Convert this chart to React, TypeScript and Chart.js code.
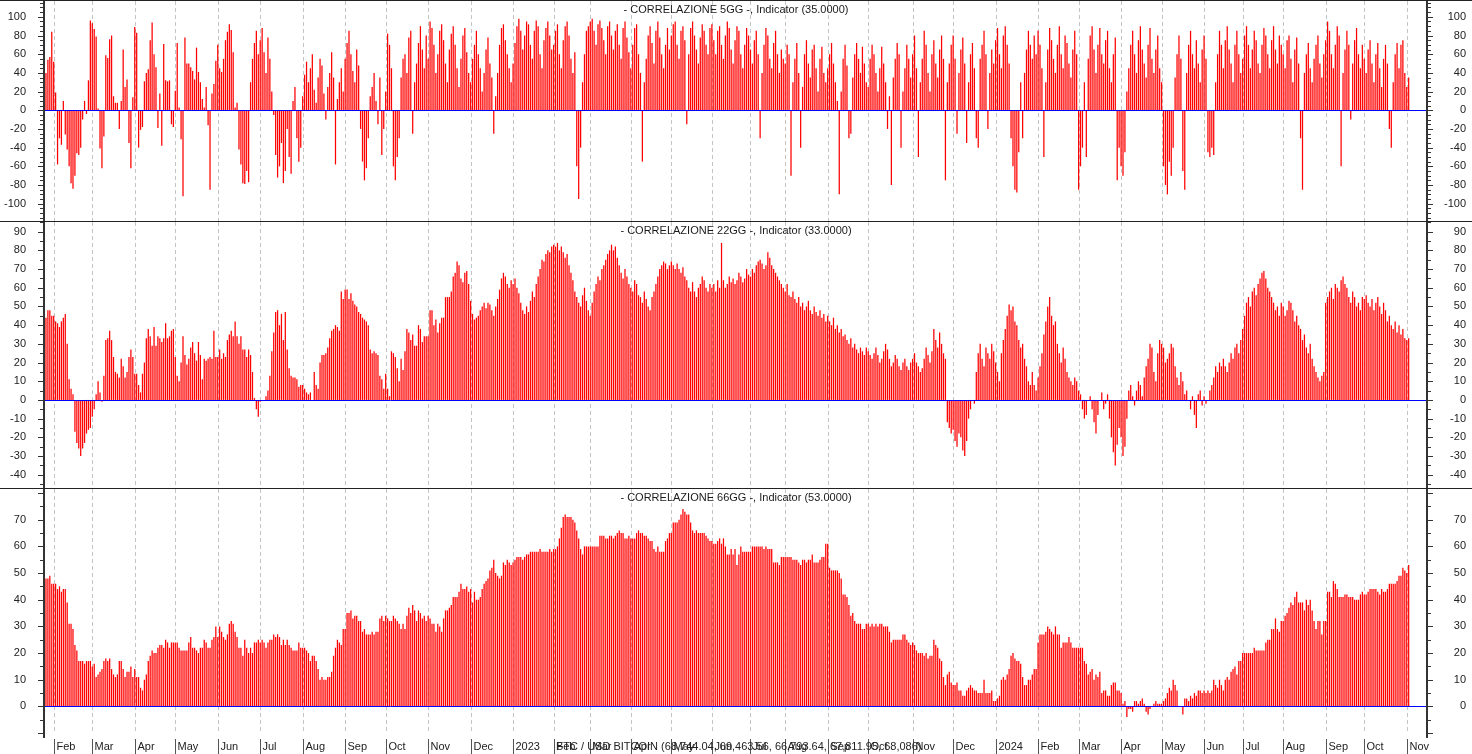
import React, { useEffect, useRef } from 'react';
import { Chart, registerables } from 'chart.js';

Chart.register(...registerables);

// ---- x axis: month boundaries (bar index where each month starts) ----
const MONTH_LABELS = ['Feb','Mar','Apr','May','Jun','Jul','Aug','Sep','Oct','Nov','Dec','2023','Feb','Mar','Apr','May','Jun','Jul','Aug','Sep','Oct','Nov','Dec','2024','Feb','Mar','Apr','May','Jun','Jul','Aug','Sep','Oct','Nov'];
const MONTH_START = [4,24,46,67,89,111,133,155,176,198,220,242,263,282,303,324,345,365,383,405,426,449,470,492,514,535,557,578,600,620,641,663,683,705];
const SLOT_COUNT = 716;

// ---- CORRELAZIONE 5GG ----
const CORR5 = [
  40,54,57,84,52,19,-58,-30,-37,10,-26,-42,-60,-78,-84,-70,-46,-48,-40,-10,
  10,-4,32,96,93,87,79,2,-41,-62,-28,59,56,76,80,15,8,8,-20,10,
  65,25,33,-35,-62,14,89,83,-40,-21,-18,31,40,44,75,94,60,46,-19,18,
  -38,71,32,31,32,-15,-18,21,72,3,-31,-92,78,50,50,46,42,33,67,41,
  30,12,3,25,-16,-85,18,28,53,70,45,41,55,75,84,92,86,62,3,8,
  -42,-58,-78,-79,-65,-77,30,55,72,85,60,
  75,88,62,40,78,55,20,-5,-48,-72,-60,-35,-78,-65,-20,-50,-68,10,25,-30,-55,-40,
  15,38,52,30,45,60,22,8,35,55,48,18,-10,25,40,62,35,-58,12,30,45,20,
  55,72,85,60,42,30,65,48,-20,-55,-75,-62,-30,15,25,40,10,-15,35,-48,-20,
  20,82,70,45,-60,-75,-50,-30,35,55,60,40,78,85,-25,30,50,72,90,65,45,80,
  55,95,88,70,40,60,85,92,75,50,30,65,82,90,70,45,25,55,80,88,62,40,
  30,55,70,85,60,45,20,40,65,78,50,35,-25,15,40,70,88,92,75,60,45,30,
  50,72,90,98,85,65,80,95,92,70,55,85,96,90,60,45,75,88,95,80,65,
  70,85,92,60,45,75,90,95,80,55,40,62,-60,-95,-40,30,60,85,90,
  95,98,85,70,92,96,88,75,60,90,95,80,65,85,92,70,55,88,95,78,62,
  45,70,88,92,60,40,-55,30,55,80,90,72,50,85,95,78,60,45,70,88,65,
  80,92,95,70,55,85,90,75,-15,60,88,95,80,65,50,78,92,85,70,60,88,
  92,75,60,85,90,70,55,80,95,88,65,50,75,90,85,60,45,70,88,80,
  65,50,75,85,60,-30,40,70,88,80,55,45,72,85,60,40,65,55,
  50,70,60,-70,30,55,72,40,-40,25,60,75,50,35,65,70,45,20,55,68,40,30,
  45,60,72,50,30,10,-90,20,55,70,48,-30,-25,35,60,72,55,40,68,50,30,
  25,55,70,60,40,20,45,68,50,30,-20,15,-80,35,55,72,60,-40,20,45,70,55,35,
  60,80,45,-50,30,55,85,70,40,20,60,75,50,35,65,80,55,-75,30,50,70,
  80,55,-25,40,65,78,50,-35,30,60,72,45,-30,-40,55,70,85,60,-20,40,65,50,
  75,88,60,45,80,90,70,50,-30,-60,-85,-88,-45,30,-30,40,65,85,70,55,80,60,
  85,70,45,-50,30,65,88,75,55,40,70,90,60,45,80,72,50,35,65,85,60,
  -85,-60,-40,30,-50,55,80,90,65,40,70,88,60,50,75,85,45,30,60,78,-75,-40,
  -60,-70,-45,20,45,70,85,60,40,75,90,65,50,35,70,88,55,40,65,80,45,
  30,-60,-80,-90,-55,-70,-40,35,60,80,55,-65,-85,40,70,85,60,45,75,50,30,65,
  80,55,-45,-50,-40,-48,30,60,85,70,45,75,90,65,50,30,70,85,60,40,
  55,80,90,70,45,65,85,75,50,40,70,88,80,60,45,75,90,65,50,80,70,
  60,45,75,80,55,30,65,78,50,-30,-85,40,60,72,45,30,55,70,80,50,35,60,
  75,95,85,60,45,70,90,80,-60,40,65,85,70,-10,50,75,88,60,45,70,
  55,40,65,75,50,30,60,72,45,25,55,70,50,-20,-40,30,60,72,45,70,75,40,
  25,35,
];

// ---- CORRELAZIONE 22GG ----
const CORR22 = [
  44,48,48,45,
  45,42,41,39,42,44,46,30,11,6,3,-17,-23,-26,-30,-26,-23,-18,-16,-15,
  -9,-5,3,10,4,-1,13,32,33,37,32,23,15,14,12,22,18,12,15,23,27,23,
  14,14,8,4,14,20,33,38,34,29,39,29,34,33,31,33,41,33,34,37,38,
  23,13,10,20,34,24,19,22,28,31,25,21,31,24,11,22,21,22,23,22,37,23,
  23,27,22,25,23,32,35,37,34,42,34,30,34,27,27,23,27,24,15,1,-5,-9,
  -1,0,0,2,5,13,26,36,47,48,40,46,32,47,27,17,13,12,12,11,7,8,
  8,6,4,3,4,0,15,8,6,20,24,24,25,28,33,37,38,40,39,37,58,54,
  59,59,54,57,53,51,50,47,46,44,43,42,40,27,25,26,25,24,13,11,6,
  14,6,2,26,25,23,17,10,22,16,26,38,36,32,35,29,29,40,38,31,34,34,
  34,48,48,40,43,36,41,44,44,55,55,55,58,66,68,74,72,65,63,68,69,62,
  53,46,43,44,45,48,50,52,49,52,51,48,45,50,54,59,65,68,66,62,60,64,
  62,65,60,57,52,48,46,50,47,53,58,55,62,66,70,75,74,78,80,79,82,
  83,82,84,80,82,79,76,78,72,68,64,58,55,52,50,56,60,53,48,
  45,52,58,62,66,64,70,72,75,78,80,83,80,82,76,72,68,65,70,66,62,
  60,58,64,62,56,55,52,58,54,50,48,55,58,62,66,70,72,74,73,70,72,
  74,72,70,73,70,68,71,66,64,60,58,63,58,55,60,62,66,64,60,58,62,
  60,62,58,64,60,84,64,60,62,66,63,65,62,64,68,66,63,65,70,67,
  66,70,68,72,74,75,73,70,72,79,76,72,70,68,66,64,62,60,
  58,62,56,55,58,54,52,55,50,52,48,50,53,48,46,50,47,45,48,44,46,42,
  45,42,40,44,38,40,36,38,34,35,32,30,33,28,30,27,25,28,26,24,28,
  26,24,22,25,28,24,20,22,26,30,27,22,18,20,24,22,18,16,20,22,18,16,20,
  22,25,20,18,15,17,22,28,24,20,26,38,32,28,36,30,25,22,-12,-15,-18,
  -16,-22,-25,-18,-20,-27,-30,-22,-10,-5,0,-2,15,25,30,22,18,28,25,22,30,26,
  20,15,10,25,32,38,45,51,48,50,42,40,32,28,30,22,18,10,8,15,8,5,
  12,18,25,35,42,50,55,45,40,42,30,25,20,28,22,15,12,10,8,12,10,
  5,3,-5,-10,-8,0,2,-5,-12,-18,-8,0,4,-5,-2,3,-10,-20,-28,-35,-24,-15,
  -20,-30,-25,-10,5,8,2,-3,5,10,8,2,12,18,22,30,28,15,10,25,32,
  30,28,20,22,25,30,28,18,12,8,15,10,3,5,0,-5,2,-8,-15,3,5,-3,
  2,-2,0,5,8,12,18,15,20,18,22,18,15,20,25,22,28,30,25,32,
  38,45,52,55,50,58,60,56,62,65,68,69,65,60,58,55,52,48,50,45,52,
  50,45,48,53,52,48,42,45,40,38,32,35,28,25,30,22,18,15,12,10,13,15,
  52,55,58,60,54,62,60,58,64,66,62,60,55,52,58,55,50,52,48,55,
  54,56,52,50,54,48,52,55,50,46,52,48,42,45,40,38,42,36,40,35,38,33,
  32,33,
];

// ---- CORRELAZIONE 66GG ----
const CORR66 = [
  48,48,49,46,
  46,46,44,45,43,44,44,39,31,31,29,23,21,17,17,17,16,17,17,17,
  15,16,11,12,13,14,17,18,17,18,14,12,11,12,17,17,14,11,13,13,15,11,
  14,11,11,7,6,10,12,17,19,21,20,20,22,23,23,22,25,24,22,24,24,
  24,24,22,21,21,21,21,24,26,22,22,21,20,22,22,25,24,22,22,25,26,30,
  26,30,28,26,25,27,31,32,31,28,26,22,22,19,25,22,20,22,20,24,24,25,
  24,25,24,22,24,25,25,27,26,27,26,23,25,23,25,23,22,21,21,21,24,22,
  22,22,21,20,17,19,19,17,14,10,11,10,10,11,11,13,19,22,25,24,23,29,
  29,35,35,36,33,34,34,32,32,28,29,27,27,27,28,27,28,28,33,34,32,
  34,33,32,32,34,33,32,31,29,31,29,34,37,35,38,36,32,36,35,33,34,32,
  34,33,31,31,28,31,30,28,33,36,36,37,38,41,41,41,43,46,44,44,45,43,
  44,39,43,40,40,41,44,46,47,48,51,52,55,50,49,48,49,54,53,55,54,53,
  54,55,56,56,56,55,56,57,57,58,58,58,58,58,59,58,58,58,58,59,58,
  59,59,60,63,67,71,72,71,71,71,70,69,66,63,59,57,60,60,60,
  60,60,60,60,60,64,64,64,63,63,64,64,63,64,65,66,65,65,63,63,64,
  63,63,63,65,66,65,65,64,64,63,62,62,59,58,60,58,58,58,62,63,65,
  65,69,69,69,70,72,74,73,72,72,69,66,65,66,65,65,65,65,64,63,62,
  62,61,61,62,63,61,63,60,57,57,59,57,59,53,57,60,58,58,58,58,
  58,60,60,60,60,60,60,59,60,59,59,59,54,54,54,53,56,56,
  56,56,56,56,55,55,55,54,53,55,55,54,55,55,57,54,54,54,55,56,56,61,
  61,52,51,51,51,51,50,48,42,42,41,38,34,35,32,31,31,31,29,29,31,
  31,30,31,30,31,30,31,31,30,30,30,28,24,25,25,25,25,25,27,27,25,24,23,
  24,23,21,20,20,20,19,20,18,19,19,25,23,22,18,17,11,8,12,13,9,
  8,8,9,6,6,4,4,6,7,8,7,6,6,5,5,5,10,5,5,5,6,2,
  2,3,4,10,11,10,12,14,19,20,18,17,17,16,11,8,8,10,10,12,14,14,
  24,27,27,27,28,30,29,28,27,30,27,27,22,24,24,24,26,24,22,22,22,
  22,22,22,17,16,12,13,14,10,12,11,13,5,6,6,4,4,8,9,9,6,6,
  5,1,2,-4,-1,-1,-2,2,2,1,2,3,1,-2,-3,-1,0,1,2,1,1,
  1,2,3,5,7,6,10,8,6,0,0,-3,3,3,2,4,3,5,4,6,6,5,
  6,5,6,5,6,10,8,7,10,8,6,10,11,10,13,14,15,12,17,17,
  20,20,20,20,20,20,22,21,21,21,21,21,24,25,25,29,29,33,29,28,32,
  32,34,35,37,39,38,41,43,39,39,39,36,40,38,40,36,32,29,32,32,27,32,
  32,43,43,41,47,46,44,41,41,41,42,42,41,41,41,40,40,40,42,43,
  42,42,43,44,44,44,44,43,42,44,43,43,44,46,46,46,46,47,49,49,52,51,
  50,53,
];

const PANEL_TITLES = [
  '- CORRELAZIONE 5GG -, Indicator (35.0000)',
  '- CORRELAZIONE 22GG -, Indicator (33.0000)',
  '- CORRELAZIONE 66GG -, Indicator (53.0000)',
];
const FOOTER_TEXT = 'BTC / USD BITCOIN (68,744.04, 69,463.56, 66,793.64, 67,811.95, 68,086)';

const FONT = '"Liberation Sans", Arial, sans-serif';
const W = 1472;

type Panel = {
  data: number[]; title: string; min: number; max: number;
  labels: number[]; minorFrom: number; minorTo: number; minorStep: number; majorStep: number;
  height: number; bottom: boolean;
};

const range = (a: number, b: number, s: number) => { const r: number[] = []; for (let v = a; v <= b + 1e-9; v += s) r.push(v); return r; };

const PANELS: Panel[] = [
  { data: CORR5, title: PANEL_TITLES[0], min: -118.5, max: 118, labels: range(-100, 100, 20), minorFrom: -115, minorTo: 115, minorStep: 5, majorStep: 20, height: 221, bottom: false },
  { data: CORR22, title: PANEL_TITLES[1], min: -47.1, max: 95.7, labels: range(-40, 90, 10), minorFrom: -45, minorTo: 95, minorStep: 5, majorStep: 10, height: 267, bottom: false },
  { data: CORR66, title: PANEL_TITLES[2], min: -11.85, max: 81.9, labels: range(0, 70, 10), minorFrom: -10, minorTo: 80, minorStep: 5, majorStep: 10, height: 266, bottom: true },
];

const decorPlugin = {
  id: 'decor',
  beforeDatasetsDraw(chart: any, _args: any, opts: any) {
    const { ctx, chartArea: ca, scales } = chart;
    const xs = scales.x;
    ctx.save();
    ctx.strokeStyle = '#c4c4c4';
    ctx.lineWidth = 1;
    ctx.setLineDash([4, 3]);
    for (const idx of MONTH_START) {
      const px = Math.round(xs.getPixelForValue(idx)) + 0.5;
      ctx.beginPath();
      ctx.moveTo(px, ca.top + 1);
      ctx.lineTo(px, opts.bottom ? ca.bottom - 4 : ca.bottom);
      ctx.stroke();
    }
    ctx.restore();
  },
  afterDatasetsDraw(chart: any, _args: any, opts: any) {
    const { ctx, chartArea: ca, scales } = chart;
    const ys = scales.y;
    const xs = scales.x;
    const p: Panel = opts.panel;
    ctx.save();
    // zero line
    const y0 = Math.round(ys.getPixelForValue(0)) + 0.5;
    ctx.strokeStyle = '#0000ff';
    ctx.lineWidth = 1;
    ctx.beginPath();
    ctx.moveTo(ca.left, y0);
    ctx.lineTo(ca.right, y0);
    ctx.stroke();
    // axis lines
    ctx.fillStyle = '#333333';
    const lx = Math.round(ca.left) - 2;
    const rx = Math.round(ca.right) - 1;
    ctx.fillRect(lx, 0, 2, ca.bottom);
    ctx.fillRect(rx, 0, 2, ca.bottom);
    // tick marks
    ctx.strokeStyle = '#333333';
    ctx.lineWidth = 1;
    for (const v of range(p.minorFrom, p.minorTo, p.minorStep)) {
      const y = Math.round(ys.getPixelForValue(v)) + 0.5;
      const len = Math.abs(v % p.majorStep) < 1e-6 ? 5 : 3;
      ctx.beginPath();
      ctx.moveTo(lx - len, y); ctx.lineTo(lx, y);
      ctx.moveTo(rx + 2, y); ctx.lineTo(rx + 2 + len, y);
      ctx.stroke();
    }
    // separator on top
    ctx.fillStyle = '#222222';
    ctx.fillRect(0, 0, chart.width, 1);
    // title
    ctx.fillStyle = '#1a1a1a';
    ctx.font = `11px ${FONT}`;
    ctx.textAlign = 'center';
    ctx.textBaseline = 'middle';
    ctx.fillText(p.title, (ca.left + ca.right) / 2, 10);
    // bottom month labels
    if (p.bottom) {
      ctx.textAlign = 'left';
      ctx.strokeStyle = '#555555';
      ctx.fillStyle = '#222222';
      MONTH_START.forEach((idx, k) => {
        const px = Math.round(xs.getPixelForValue(idx)) + 0.5;
        ctx.beginPath();
        ctx.moveTo(px, ca.bottom + 1);
        ctx.lineTo(px, chart.height);
        ctx.stroke();
        ctx.fillText(MONTH_LABELS[k], px + 2, ca.bottom + 8.5);
      });
      ctx.fillText(FOOTER_TEXT, 556, ca.bottom + 8.5);
    }
    ctx.restore();
  },
};

const SLOT_LABELS = Array.from({ length: SLOT_COUNT }, (_, i) => String(i));

function makeChart(canvas: HTMLCanvasElement, p: Panel) {
  const yCommon = (pos: 'left' | 'right') => ({
    position: pos,
    min: p.min,
    max: p.max,
    grid: { display: false },
    border: { display: false },
    afterBuildTicks: (s: any) => { s.ticks = p.labels.map((v) => ({ value: v })); },
    ticks: {
      font: { family: FONT, size: 11 },
      color: '#222222',
      padding: 11,
      crossAlign: pos === 'left' ? 'near' : 'far',
      callback: (v: any) => String(v),
    },
    afterFit: (s: any) => {
      s.width = pos === 'left' ? 45 : 39;
      s.paddingTop = 0;
      s.paddingBottom = 0;
    },
  });
  return new Chart(canvas, {
    type: 'bar',
    data: {
      labels: SLOT_LABELS,
      datasets: [{
        data: p.data,
        backgroundColor: '#ff0000',
        borderWidth: 0,
        barPercentage: 0.65,
        categoryPercentage: 1,
        yAxisID: 'y',
      }],
    },
    options: {
      responsive: false,
      animation: false,
      devicePixelRatio: 1,
      events: [],
      layout: { padding: { left: 0, right: 6, top: 0, bottom: p.bottom ? 16 : 0 } },
      plugins: {
        legend: { display: false },
        tooltip: { enabled: false },
        decor: { panel: p, bottom: p.bottom },
      } as any,
      scales: {
        x: {
          type: 'category',
          offset: true,
          grid: { display: false },
          border: { display: false },
          ticks: { display: false, autoSkip: false },
          afterFit: (s: any) => { s.height = 0; s.paddingLeft = 0; s.paddingRight = 0; },
        },
        y: yCommon('left') as any,
        y2: yCommon('right') as any,
      },
    },
    plugins: [decorPlugin as any],
  });
}

export default function App() {
  const refs = [useRef<HTMLCanvasElement>(null), useRef<HTMLCanvasElement>(null), useRef<HTMLCanvasElement>(null)];
  useEffect(() => {
    const charts = PANELS.map((p, i) => makeChart(refs[i].current as HTMLCanvasElement, p));
    return () => charts.forEach((c) => c.destroy());
  }, []);
  return (
    <div style={{ position: 'absolute', left: 0, top: 0, width: W, height: 754, background: '#ffffff' }}>
      {PANELS.map((p, i) => (
        <canvas key={i} ref={refs[i]} width={W} height={p.height} style={{ display: 'block', width: W, height: p.height }} />
      ))}
    </div>
  );
}
